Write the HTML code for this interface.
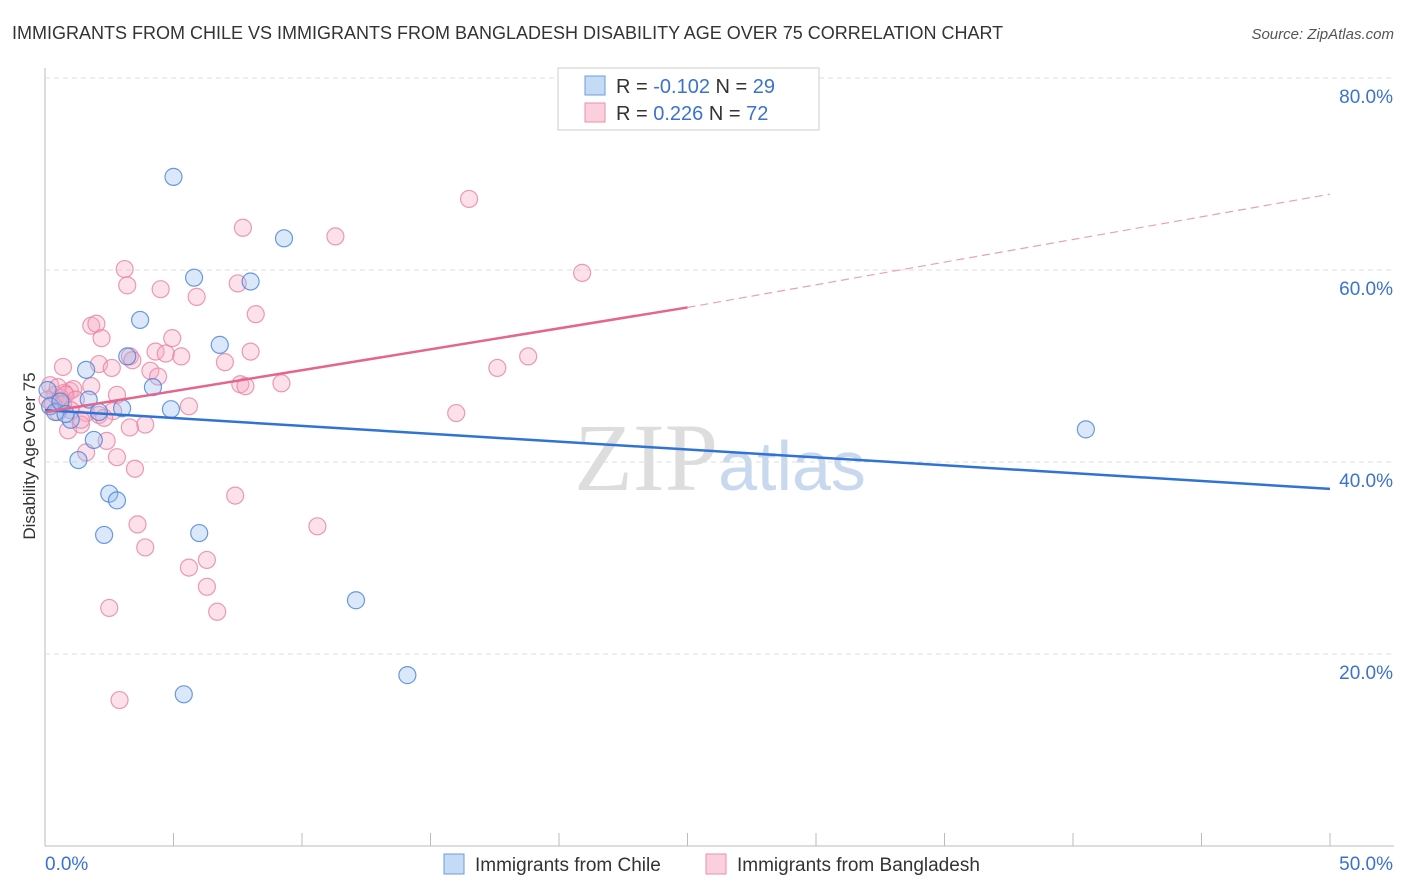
<!DOCTYPE html>
<html><head><meta charset="utf-8"><style>
body{margin:0;background:#fff;font-family:"Liberation Sans",sans-serif;}
#wrap{position:relative;width:1406px;height:892px;overflow:hidden}
</style></head><body>
<div id="wrap">
<svg id="svg" width="1406" height="892" xmlns="http://www.w3.org/2000/svg">
<text x="12" y="39" font-size="18" fill="#333">IMMIGRANTS FROM CHILE VS IMMIGRANTS FROM BANGLADESH DISABILITY AGE OVER 75 CORRELATION CHART</text>
<text x="1394" y="39" font-size="15" fill="#555" font-style="italic" text-anchor="end">Source: ZipAtlas.com</text>
<text x="35" y="456" font-size="17" fill="#333" transform="rotate(-90 35 456)" text-anchor="middle">Disability Age Over 75</text>
<text x="720" y="490" font-size="96" fill="#ddd" text-anchor="middle" font-family="Liberation Serif">ZIP<tspan fill="#c8d8ee" font-family="Liberation Sans" font-size="70">atlas</tspan></text>
<g id="grid"></g><g id="marks"></g>
<g>
<rect x="558" y="68" width="261" height="62" fill="#fff" stroke="#ccc"/>
<rect x="585" y="76" width="20" height="19" fill="#c5daf5" stroke="#6a9ee0"/>
<text x="616" y="93" font-size="20" fill="#333">R = <tspan fill="#3a72d0">-0.102</tspan>   N = <tspan fill="#3a72d0">29</tspan></text>
<rect x="585" y="103" width="20" height="19" fill="#fbd0dc" stroke="#ea8fab"/>
<text x="616" y="120" font-size="20" fill="#333">R =  <tspan fill="#3a72d0"> 0.226</tspan>   N = <tspan fill="#3a72d0">72</tspan></text>
</g>
<g>
<rect x="444" y="854" width="20" height="20" fill="#c5daf5" stroke="#6a9ee0"/>
<text x="475" y="871" font-size="19" fill="#333">Immigrants from Chile</text>
<rect x="706" y="854" width="20" height="20" fill="#fbd0dc" stroke="#ea8fab"/>
<text x="737" y="871" font-size="19" fill="#333">Immigrants from Bangladesh</text>
</g>
</svg></div>
<script>
const yTicks=[20,40,60,80];
const xTickLabels=["0.0%","50.0%"];
const chileX=[5.0,9.3,5.8,8.0,3.7,6.8,3.2,1.6,4.2,1.7,3.0,4.9,2.1,1.0,1.9,1.3,2.5,2.8,2.3,6.0,12.1,14.1,5.4,40.5,0.2,0.4,0.6,0.1,0.8];
const chileY=[69.7,63.3,59.2,58.8,54.8,52.2,51.0,49.6,47.8,46.5,45.6,45.5,45.2,44.4,42.3,40.2,36.7,36.0,32.4,32.6,25.6,17.8,15.8,43.4,45.8,45.2,46.3,47.5,45.0];
const bangX=[16.5,7.7,11.3,3.1,20.9,3.2,4.5,7.5,5.9,8.2,1.8,2.0,2.2,4.95,4.3,5.3,4.7,3.3,3.4,8.0,7.0,18.8,0.7,2.1,2.6,4.1,4.4,17.6,7.6,7.8,9.2,1.8,0.97,1.1,0.75,2.8,2.65,5.6,1.6,2.1,2.3,16.0,3.9,3.3,0.9,1.4,2.4,1.6,2.8,3.5,7.4,3.6,10.6,3.9,6.3,5.6,6.3,2.5,6.7,2.9,0.2,0.4,0.6,0.1,0.3,0.5,0.8,1.2,0.7,1.0,0.5,1.4];
const bangY=[67.4,64.4,63.5,60.1,59.7,58.4,58.0,58.6,57.2,55.4,54.2,54.4,52.9,52.9,51.5,51.0,51.3,51.0,50.6,51.5,50.4,51.0,49.9,50.2,49.8,49.5,48.9,49.8,48.1,47.9,48.2,47.9,47.4,47.6,47.2,47.0,45.3,45.8,45.1,44.9,44.6,45.1,43.9,43.6,43.3,43.9,42.2,41.0,40.5,39.3,36.5,33.5,33.3,31.1,29.8,29.0,27.0,24.8,24.4,15.2,48.0,47.0,46.7,46.5,46.0,47.8,47.0,46.5,46.0,45.4,45.2,44.4];
const chileTrend=[45.4,37.2];
const bangTrend=[45.2,56.1,67.9];
const X=v=>45+v/50*1285, Y=v=>846-v*9.6;
const NS="http://www.w3.org/2000/svg";
const grid=document.getElementById('grid'), marks=document.getElementById('marks');
function mk(tag,attrs,parent){const e=document.createElementNS(NS,tag);for(const k in attrs)e.setAttribute(k,attrs[k]);parent.appendChild(e);return e;}
let l=mk('line',{x1:45,y1:68,x2:45,y2:846,stroke:'#bbb'},grid);


l=mk('line',{x1:45,y1:846,x2:1394,y2:846,stroke:'#bbb'},grid);


for(let i=0;i<=10;i++){const t=mk('line',{x1:X(i*5),y1:833,x2:X(i*5),y2:846,stroke:'#bbb'},grid);

}
yTicks.forEach(v=>{const g=mk('line',{x1:45,y1:Y(v),x2:1394,y2:Y(v),stroke:'#ddd','stroke-dasharray':'5,4'},grid);


const t=mk('text',{x:1393,y:Y(v)+25,'font-size':19,fill:'#3a72d0','text-anchor':'end'},grid);t.textContent=v.toFixed(1)+'%';

});
let t=mk('text',{x:45,y:870,'font-size':19,fill:'#3a72d0'},grid);t.textContent=xTickLabels[0];


t=mk('text',{x:1393,y:870,'font-size':19,fill:'#3a72d0','text-anchor':'end'},grid);t.textContent=xTickLabels[1];


bangX.forEach((x,i)=>{const c=mk('circle',{cx:X(x),cy:Y(bangY[i]),r:8.5,fill:'rgba(247,170,195,0.35)',stroke:'rgba(232,130,162,0.8)','stroke-width':1.2},marks);

});
chileX.forEach((x,i)=>{const c=mk('circle',{cx:X(x),cy:Y(chileY[i]),r:8.5,fill:'rgba(150,190,240,0.35)',stroke:'rgba(70,130,215,0.8)','stroke-width':1.2},marks);

});
l=mk('line',{x1:X(0),y1:Y(chileTrend[0]),x2:X(50),y2:Y(chileTrend[1]),stroke:'#2f73d6','stroke-width':2.5},marks);


l=mk('line',{x1:X(0),y1:Y(bangTrend[0]),x2:X(25),y2:Y(bangTrend[1]),stroke:'#e4668f','stroke-width':2.5},marks);


l=mk('line',{x1:X(25),y1:Y(bangTrend[1]),x2:X(50),y2:Y(bangTrend[2]),stroke:'#e8a0b8','stroke-width':1.2,'stroke-dasharray':'8,5'},marks);


</script>
</body></html>
